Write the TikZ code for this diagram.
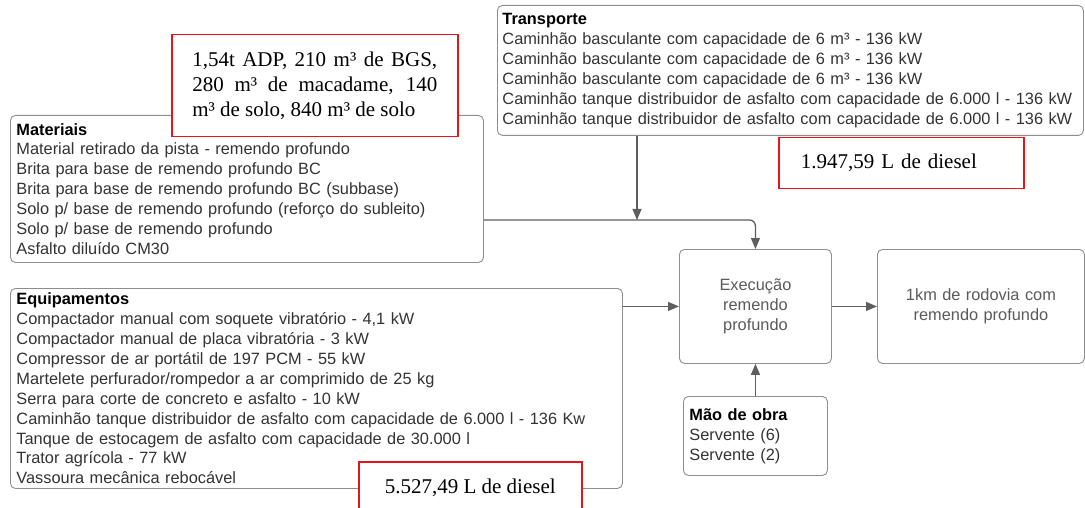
\documentclass[tikz,border=0pt]{standalone}
\usepackage{fontspec}
\setmainfont{Liberation Sans}
\newfontfamily\notefont{Liberation Serif}
\usetikzlibrary{positioning,arrows.meta,calc}

\definecolor{linegray}{HTML}{5E5E5E}
\definecolor{boxgray}{HTML}{8E8E8E}
\definecolor{txtgray}{HTML}{333333}
\definecolor{procgray}{HTML}{5A5A5A}
\definecolor{notered}{HTML}{E8141B}

\tikzset{
  box/.style={draw=boxgray, line width=0.9pt, rounded corners=5pt, fill=white,
    anchor=north west, inner xsep=6pt, inner ysep=0pt, align=left, text=txtgray,
    font=\fontsize{16.35}{19.9}\selectfont},
  procbox/.style={box, align=center, text=procgray},
  note/.style={draw=notered, line width=1.5pt, fill=white, anchor=north west,
    inner ysep=0pt, text=black, font=\notefont\fontsize{21}{25}\selectfont},
  flow/.style={draw=linegray, line width=1.3pt, -{Triangle[length=11pt,width=9pt]}},
}
\newcommand{\head}[1]{\textbf{\color{black}#1}}

\begin{document}
\begin{tikzpicture}[x=1pt, y=-1pt]
\useasboundingbox (0,0) rectangle (1085,508);

% input lists
\node[box, minimum width=586pt, minimum height=130pt, text width=582pt, inner xsep=2pt]
  (trans) at (497,5) {\hspace*{3pt}\head{Transporte}\\
  \hspace*{3pt}Caminhão basculante com capacidade de 6 m³ - 136 kW\\
  \hspace*{3pt}Caminhão basculante com capacidade de 6 m³ - 136 kW\\
  \hspace*{3pt}Caminhão basculante com capacidade de 6 m³ - 136 kW\\
  \hspace*{3pt}Caminhão tanque distribuidor de asfalto com capacidade de 6.000 l - 136 kW\\
  \hspace*{3pt}Caminhão tanque distribuidor de asfalto com capacidade de 6.000 l - 136 kW};

\node[box, minimum width=473pt, minimum height=147pt, text width=461pt]
  (mat) at (10,115) {\head{Materiais}\\
  Material retirado da pista - remendo profundo\\
  Brita para base de remendo profundo BC\\
  Brita para base de remendo profundo BC (subbase)\\
  Solo p/ base de remendo profundo (reforço do subleito)\\
  Solo p/ base de remendo profundo\\
  Asfalto diluído CM30};

\node[box, minimum width=612pt, minimum height=200pt, text width=600pt]
  (equip) at (10,288) {\head{Equipamentos}\\
  Compactador manual com soquete vibratório - 4,1 kW\\
  Compactador manual de placa vibratória - 3 kW\\
  Compressor de ar portátil de 197 PCM - 55 kW\\
  Martelete perfurador/rompedor a ar comprimido de 25 kg\\
  Serra para corte de concreto e asfalto - 10 kW\\
  Caminhão tanque distribuidor de asfalto com capacidade de 6.000 l - 136 Kw\\
  Tanque de estocagem de asfalto com capacidade de 30.000 l\\
  Trator agrícola - 77 kW\\
  Vassoura mecânica rebocável};

% process and result
\node[procbox, minimum width=152pt, minimum height=114pt, text width=140pt]
  (exec) at (679,249) {Execução\\remendo\\profundo};
\node[procbox, minimum width=207pt, minimum height=114pt, text width=195pt]
  (out) at (877,249) {1km de rodovia com\\remendo profundo};
\node[box, minimum width=144pt, minimum height=79pt, text width=132pt]
  (mao) at (683,396) {\head{Mão de obra}\\Servente (6)\\Servente (2)};

% red notes
\node[note, minimum width=286pt, minimum height=102pt, text width=245pt,
  inner xsep=20pt, align=justify] (adp) at (171,34)
  {1,54t ADP, 210 m³ de BGS,\linebreak 280 m³ de macadame, 140\linebreak m³ de solo, 840 m³ de solo};
\node[note, minimum width=223pt, minimum height=52pt, align=center]
  (dieselequip) at (358,461) {5.527,49 L de diesel};
\node[note, minimum width=245pt, minimum height=51pt, text width=201pt,
  inner xsep=22pt, align=left] (dieseltrans) at (778,137) {1.947,59 L de diesel};

% connectors
\coordinate (merge) at (637,220);
\draw[flow] (trans.south -| merge) -- (merge);
\draw[flow, rounded corners=6pt] (mat.east |- merge) -- (exec.north |- merge) -- (exec.north);
\draw[flow] (equip.east |- exec.west) -- (exec.west);
\draw[flow] (exec.east) -- (out.west);
\draw[flow] (mao.north) -- (exec.south);

\end{tikzpicture}
\end{document}
